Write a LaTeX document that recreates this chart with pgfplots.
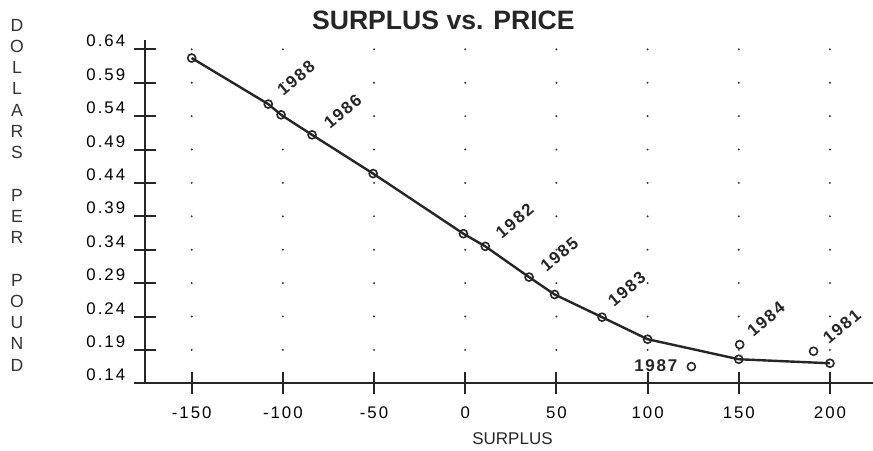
\documentclass[border=0pt]{standalone}
\usepackage{pgfplots}
\pgfplotsset{compat=1.18}
\usepackage{fontspec}
\setmainfont{Liberation Sans}
\newfontfamily\tickfont[LetterSpace=12]{Liberation Sans}
\newfontfamily\yrfont[LetterSpace=10]{Liberation Sans}
\begin{document}
\begin{tikzpicture}
\begin{axis}[
  at={(0,0)}, anchor=south west,
  scale only axis, width=364pt, height=171.65pt,
  xmin=-175.6, xmax=223.6, ymin=0.14, ymax=0.654,
  axis x line=bottom, axis y line=left,
  axis line style={-, line width=1pt, black!85},
  xtick={-150,-100,-50,0,50,100,150,200},
  xticklabels={-150,-100,-50,0,50,100,150,200},
  ytick={0.14,0.19,0.24,0.29,0.34,0.39,0.44,0.49,0.54,0.59,0.64},
  yticklabels={0.14,0.19,0.24,0.29,0.34,0.39,0.44,0.49,0.54,0.59,0.64},
  tick align=center, major tick length=11pt,
  tick style={line width=1pt, black!85},
  xticklabel style={font=\tickfont\fontsize{8.4}{10}\selectfont, inner sep=0pt, anchor=base, yshift=-12.2pt},
  yticklabel style={font=\tickfont\fontsize{8.4}{10}\selectfont, inner sep=0pt, anchor=base east, xshift=-4.2pt, yshift=1.2pt},
  xmajorgrids,
  major grid style={black!80, line width=1.1pt, line cap=round, dash pattern=on 0pt off 16.698pt},
  clip=false,
]
\addplot[black!85, line width=1.2pt, mark=o, mark size=2pt,
  mark options={fill=white, line width=0.8pt, solid}]
  coordinates {(-150,0.627) (-108,0.558) (-101,0.542) (-84,0.512) (-50.5,0.454)
  (-1,0.364) (11,0.345) (35,0.299) (49,0.273) (75,0.239) (100,0.206) (150,0.176) (200,0.170)};
\addplot[only marks, black!85, mark=o, mark size=2pt,
  mark options={fill=white, line width=0.8pt}]
  coordinates {(124,0.165) (150.5,0.198) (191,0.188)};
\begin{scope}[every node/.style={font=\yrfont\bfseries\fontsize{8.5}{10}\selectfont, text=black!85, inner sep=0pt}]
\node[rotate=40] at (axis cs:-92.8,0.597) {1988};
\node[rotate=40] at (axis cs:-67.2,0.547) {1986};
\node[rotate=40] at (axis cs:27.1,0.383) {1982};
\node[rotate=40] at (axis cs:51.6,0.333) {1985};
\node[rotate=40] at (axis cs:88.6,0.281) {1983};
\node[rotate=40] at (axis cs:164.9,0.236) {1984};
\node[rotate=40] at (axis cs:206.5,0.225) {1981};
\node at (axis cs:104.5,0.167) {1987};
\end{scope}
\end{axis}
\node[font=\bfseries\fontsize{13.3}{15}\selectfont, text=black!85] at (149.2pt,181.4pt) {SURPLUS vs. PRICE};
\node[font=\fontsize{8.5}{10}\selectfont, text=black!85] at (183.75pt,-27.5pt) {SURPLUS};
\node[font=\fontsize{8.8}{10.625}\selectfont, text=black!80, align=center, inner sep=0pt] at (-64pt,94.15pt)
  {D\\O\\L\\L\\A\\R\\S\\[10.625pt]P\\E\\R\\[10.625pt]P\\O\\U\\N\\D};
\pgfresetboundingbox
\path (-72.5pt,-33.35pt) rectangle (364pt,191.65pt);
\end{tikzpicture}
\end{document}
